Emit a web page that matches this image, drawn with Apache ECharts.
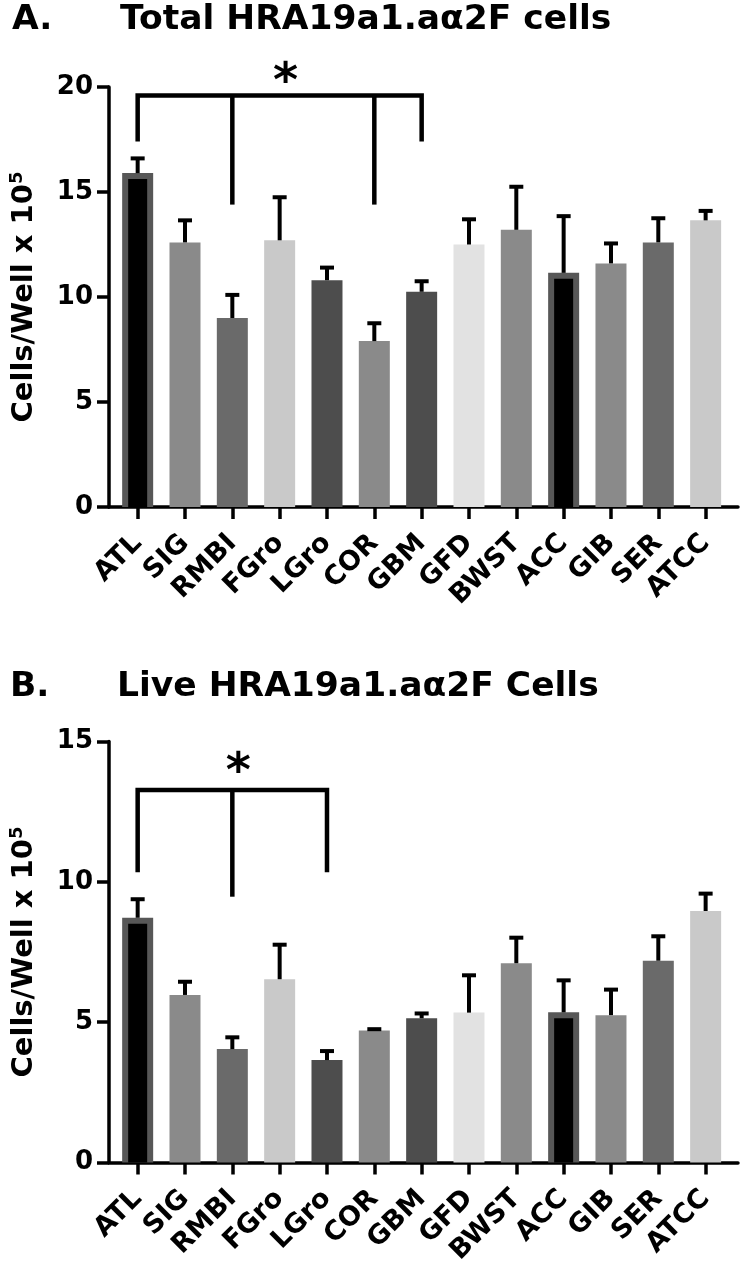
<!DOCTYPE html>
<html><head><meta charset="utf-8">
<script src="https://cdn.jsdelivr.net/npm/echarts@6/dist/echarts.min.js"></script>
<style>html,body{margin:0;padding:0;background:#fff}#c{width:744px;height:1271px}</style>
</head><body><div id="c"></div>
<script>
// ---- data ----
const categories = ['ATL','SIG','RMBI','FGro','LGro','COR','GBM','GFD','BWST','ACC','GIB','SER','ATCC'];
const barColors  = ['#575757','#8a8a8a','#6a6a6a','#c9c9c9','#4d4d4d','#8a8a8a','#4d4d4d','#e2e2e2','#8a8a8a','#575757','#8a8a8a','#6a6a6a','#c9c9c9'];
const outlined   = ['ATL','ACC'];

const totalMean = [15.9, 12.6, 9.0, 12.7, 10.8, 7.9, 10.25, 12.5, 13.2, 11.15, 11.6, 12.6, 13.65];
const totalErr  = [0.7, 1.05, 1.1, 2.05, 0.6, 0.85, 0.5, 1.2, 2.05, 2.7, 0.95, 1.15, 0.45];
const liveMean  = [8.72, 5.97, 4.04, 6.53, 3.65, 4.70, 5.14, 5.34, 7.10, 5.35, 5.25, 7.19, 8.96];
const liveErr   = [0.66, 0.47, 0.42, 1.23, 0.32, 0.05, 0.17, 1.33, 0.91, 1.14, 0.91, 0.87, 0.62];

const totalAxis = {min: 0, max: 20, interval: 5};
const liveAxis  = {min: 0, max: 15, interval: 5};

const totalSig = {from: 'ATL', to: 'GBM', legs: ['RMBI', 'COR'], top: 19.6, endLow: 17.4, legLow: 14.4, star: 20.15};
const liveSig  = {from: 'ATL', to: 'LGro', legs: ['RMBI'], top: 13.27, endLow: 10.34, legLow: 9.47, star: 13.85};

const titleA = ['A.', 'Total HRA19a1.aα2F cells'];
const titleB = ['B.', 'Live HRA19a1.aα2F Cells'];
const yName = '{a|Cells/Well x 10}{s|5}';

// ---- style ----
const FONT = 'DejaVu Sans';
const AXW = 3.5;
const BARW = 31;

const chart = echarts.init(document.getElementById('c'), null, {renderer: 'canvas'});

const panels = [
  {top: 87, height: 420, axis: totalAxis, mean: totalMean, err: totalErr, sig: totalSig},
  {top: 741.5, height: 421, axis: liveAxis, mean: liveMean, err: liveErr, sig: liveSig}
];

const grid = [], xAxis = [], yAxis = [], series = [];
panels.forEach((p, k) => {
  const gF = grid.length; grid.push({left: 107, right: 6, top: p.top, height: p.height});
  const gD = grid.length; grid.push({left: 114, width: 615.3, top: p.top, height: p.height});
  // frame axes
  xAxis.push({gridIndex: gF, type: 'value', min: 0, max: 1,
    axisLine: {show: true, lineStyle: {color: '#000', width: AXW}},
    axisTick: {show: false}, axisLabel: {show: false}, splitLine: {show: false}});
  yAxis.push({gridIndex: gF, type: 'value', min: p.axis.min, max: p.axis.max, interval: p.axis.interval,
    axisLine: {show: true, lineStyle: {color: '#000', width: AXW}},
    axisTick: {show: true, length: 12, lineStyle: {color: '#000', width: AXW}},
    axisLabel: {color: '#000', fontFamily: FONT, fontWeight: 'bold', fontSize: 26, margin: 16},
    splitLine: {show: false},
    name: yName, nameLocation: 'middle', nameRotate: 90, nameGap: 68,
    nameTextStyle: {rich: {
      a: {fontFamily: FONT, fontWeight: 'bold', fontSize: 29, color: '#000'},
      s: {fontFamily: FONT, fontWeight: 'bold', fontSize: 18, color: '#000', verticalAlign: 'top', padding: [0, 0, 15, 0]}
    }}});
  // data axes
  const xD = xAxis.length;
  xAxis.push({gridIndex: gD, type: 'category', data: categories,
    axisLine: {show: false},
    axisTick: {show: true, alignWithLabel: true, length: 12, lineStyle: {color: '#000', width: AXW}},
    axisLabel: {rotate: 45, color: '#000', fontFamily: FONT, fontWeight: 'bold', fontSize: 27, margin: 32, interval: 0},
    splitLine: {show: false}});
  const yD = yAxis.length;
  yAxis.push({gridIndex: gD, type: 'value', min: p.axis.min, max: p.axis.max, show: false});

  series.push({type: 'bar', xAxisIndex: xD, yAxisIndex: yD, barWidth: BARW,
    data: p.mean.map((v, i) => ({value: v, itemStyle: {color: barColors[i]}})),
    z: 2, silent: true});
  // inset black fill for outlined bars
  series.push({type: 'custom', xAxisIndex: xD, yAxisIndex: yD, z: 3, silent: true,
    data: categories.map((c, i) => outlined.includes(c) ? [i, p.mean[i]] : null).filter(d => d),
    renderItem: (params, api) => {
      const x = api.value(0), v = api.value(1);
      const t = api.coord([x, v]), b0 = api.coord([x, 0]);
      const b = 6;
      return {type: 'rect', shape: {x: t[0] - BARW / 2 + b, y: t[1] + b, width: BARW - 2 * b, height: b0[1] - t[1] - b},
        style: {fill: '#000'}};
    }});
  // error bars (upper)
  series.push({type: 'custom', xAxisIndex: xD, yAxisIndex: yD, z: 4, silent: true,
    data: p.mean.map((v, i) => [i, v, v + p.err[i]]),
    renderItem: (params, api) => {
      const x = api.value(0);
      const lo = api.coord([x, api.value(1)]), hi = api.coord([x, api.value(2)]);
      return {type: 'group', children: [
        {type: 'line', shape: {x1: lo[0], y1: lo[1], x2: hi[0], y2: hi[1]}, style: {stroke: '#000', lineWidth: 4}},
        {type: 'line', shape: {x1: hi[0] - 7, y1: hi[1], x2: hi[0] + 7, y2: hi[1]}, style: {stroke: '#000', lineWidth: 4}}
      ]};
    }});
  // significance bracket
  const s = p.sig;
  series.push({type: 'custom', xAxisIndex: xD, yAxisIndex: yD, z: 5, silent: true, clip: false,
    data: [[categories.indexOf(s.from), categories.indexOf(s.to)]],
    renderItem: (params, api) => {
      const a = api.value(0), b = api.value(1);
      const pts = [api.coord([a, s.endLow]), api.coord([a, s.top]), api.coord([b, s.top]), api.coord([b, s.endLow])];
      const children = [{type: 'polyline', shape: {points: pts}, style: {stroke: '#000', lineWidth: 4.5, fill: null, lineJoin: 'miter'}}];
      s.legs.forEach(l => {
        const li = categories.indexOf(l);
        const p1 = api.coord([li, s.top]), p2 = api.coord([li, s.legLow]);
        children.push({type: 'line', shape: {x1: p1[0], y1: p1[1], x2: p2[0], y2: p2[1]}, style: {stroke: '#000', lineWidth: 4.5}});
      });
      const c = api.coord([(a + b) / 2, s.star]);
      children.push({type: 'text', x: c[0] + 6, y: c[1], style: {text: '*', fontFamily: FONT, fontWeight: 'bold', fontSize: 48, fill: '#000', align: 'center', verticalAlign: 'middle'}});
      return {type: 'group', children: children};
    }});
});

const graphic = [
  {type: 'text', left: 12, top: 3, style: {text: titleA[0], fontFamily: FONT, fontWeight: 'bold', fontSize: 34.5, fill: '#000'}},
  {type: 'text', left: 120, top: 3, style: {text: titleA[1], fontFamily: FONT, fontWeight: 'bold', fontSize: 34.5, fill: '#000'}},
  {type: 'text', left: 10, top: 670, style: {text: titleB[0], fontFamily: FONT, fontWeight: 'bold', fontSize: 34.5, fill: '#000'}},
  {type: 'text', left: 117, top: 670, style: {text: titleB[1], fontFamily: FONT, fontWeight: 'bold', fontSize: 34.5, fill: '#000'}}
];

chart.setOption({animation: false, backgroundColor: '#fff', grid, xAxis, yAxis, series, graphic});
</script></body></html>
